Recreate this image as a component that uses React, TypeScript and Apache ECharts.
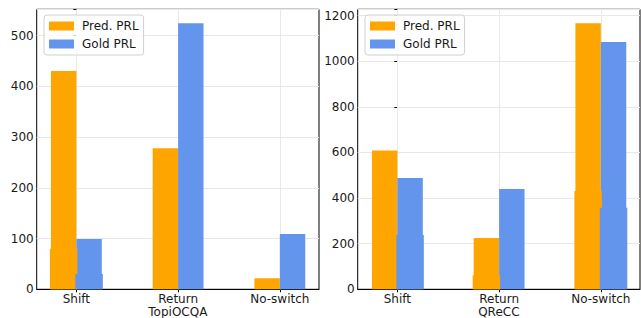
import React, { useEffect, useRef } from 'react';
import * as echarts from 'echarts';

const categories = ['Shift', 'Return', 'No-switch'];
const positions = [0, 1, 2];
const datasetNames = ['TopiOCQA', 'QReCC'];
const seriesNames = ['Pred. PRL', 'Gold PRL'];

const topiPred = [430, 278, 22];
const topiGold = [99, 524, 109];
const topiPredOverlay = [80, 0, 0];
const topiGoldOverlay = [30, 0, 0];

const qreccPred = [609, 225, 1167];
const qreccGold = [488, 440, 1085];
const qreccPredOverlay = [0, 61, 431];
const qreccGoldOverlay = [238, 0, 358];

const topiYTicks = [0, 100, 200, 300, 400, 500];
const qreccYTicks = [0, 200, 400, 600, 800, 1000, 1200];

const FONT = 'DejaVu Sans';
const ORANGE = '#FFA500';
const BLUE = '#6495ED';
const TEXT = '#1a1a1a';

export default function App() {
  const ref = useRef<HTMLDivElement>(null);
  useEffect(() => {
    if (!ref.current) return;
    const chart = echarts.init(ref.current, undefined, { renderer: 'svg' });
    const yMax = [551.7, 1228];
    const yInt = [100, 200];
    const yTicks = [topiYTicks, qreccYTicks];
    const preds = [topiPred, qreccPred];
    const golds = [topiGold, qreccGold];
    const predsO = [topiPredOverlay, qreccPredOverlay];
    const goldsO = [topiGoldOverlay, qreccGoldOverlay];
    const gridLeft = [36.7, 357.7];

    const grid = gridLeft.map((l) => ({
      left: l,
      top: 9.3,
      width: 282.3,
      height: 280,
      show: true,
      borderColor: '#000',
      borderWidth: 1,
      backgroundColor: 'transparent',
      containLabel: false,
      outerBoundsMode: 'none',
    }));

    const xAxis: any[] = [];
    const yAxis: any[] = [];
    const series: any[] = [];
    [0, 1].forEach((g) => {
      xAxis.push({
        type: 'value',
        gridIndex: g,
        min: -0.39,
        max: 2.385,
        splitLine: { show: false },
        axisLine: { show: true, onZero: false, lineStyle: { color: '#000', width: 1 } },
        axisTick: { show: true, customValues: positions, length: 3, lineStyle: { color: '#000' } },
        axisLabel: {
          customValues: positions,
          formatter: (v: number) => categories[Math.round(v)] ?? '',
          fontFamily: FONT,
          fontSize: 12,
          lineHeight: 12,
          color: TEXT,
          margin: 4,
        },
        name: datasetNames[g],
        nameLocation: 'middle',
        nameGap: 22.5,
        nameMoveOverlap: false,
        nameTextStyle: { fontFamily: FONT, fontSize: 12, color: TEXT, lineHeight: 12, verticalAlign: 'middle' },
      });
      xAxis.push({
        type: 'value',
        gridIndex: g,
        min: -0.39,
        max: 2.385,
        show: false,
      });
      yAxis.push({
        type: 'value',
        gridIndex: g,
        min: 0,
        max: yMax[g],
        interval: yInt[g],
        axisLine: { show: true, lineStyle: { color: '#000', width: 1 } },
        axisTick: { show: true, length: 3, lineStyle: { color: '#000' } },
        axisLabel: {
          formatter: (v: number) => (yTicks[g].includes(v) ? String(v) : ''),
          fontFamily: FONT,
          fontSize: 12,
          color: TEXT,
          margin: 3,
        },
        splitLine: { show: true, lineStyle: { color: '#e8e8e8', width: 1 } },
      });
      const xMain = g * 2;
      const xOver = g * 2 + 1;
      series.push({
        type: 'line',
        xAxisIndex: xMain,
        yAxisIndex: g,
        data: [],
        silent: true,
        z: 1,
        markLine: {
          z: 1,
          silent: true,
          symbol: 'none',
          animation: false,
          label: { show: false },
          lineStyle: { color: '#e8e8e8', width: 1, type: 'solid' },
          data: positions.map((x) => ({ xAxis: x })),
        },
      });
      series.push({
        type: 'bar',
        name: seriesNames[0],
        xAxisIndex: xMain,
        yAxisIndex: g,
        barWidth: '25%',
        barGap: '0%',
        z: 2,
        itemStyle: { color: ORANGE },
        data: positions.map((x, i) => [x, preds[g][i]]),
      });
      series.push({
        type: 'bar',
        name: seriesNames[1],
        xAxisIndex: xMain,
        yAxisIndex: g,
        barWidth: '25%',
        barGap: '0%',
        z: 2,
        itemStyle: { color: BLUE },
        data: positions.map((x, i) => [x, golds[g][i]]),
      });
      series.push({
        type: 'bar',
        name: seriesNames[0] + ' overlay',
        xAxisIndex: xOver,
        yAxisIndex: g,
        barWidth: '27%',
        barGap: '-7.4%',
        z: 3,
        itemStyle: { color: ORANGE },
        data: positions.map((x, i) => [x, predsO[g][i]]),
      });
      series.push({
        type: 'bar',
        name: seriesNames[1] + ' overlay',
        xAxisIndex: xOver,
        yAxisIndex: g,
        barWidth: '27%',
        barGap: '-7.4%',
        z: 3,
        itemStyle: { color: BLUE },
        data: positions.map((x, i) => [x, goldsO[g][i]]),
      });
    });

    const legend = [44, 365].map((l) => ({
      left: l,
      top: 15,
      orient: 'vertical',
      data: seriesNames,
      icon: 'rect',
      itemWidth: 25,
      itemHeight: 9,
      itemGap: 6,
      padding: [5, 5, 5, 5],
      backgroundColor: 'rgba(255,255,255,0.8)',
      borderColor: '#d0d0d0',
      borderWidth: 1,
      borderRadius: 3,
      selectedMode: false,
      textStyle: { fontFamily: FONT, fontSize: 12, color: TEXT, padding: [0, 0, 0, 3] },
    }));

    chart.setOption({
      animation: false,
      backgroundColor: '#fff',
      textStyle: { fontFamily: FONT },
      grid,
      xAxis,
      yAxis,
      legend,
      series,
    });
    return () => chart.dispose();
  }, []);
  return (
    <div
      ref={ref}
      style={{ position: 'fixed', left: 0, top: 0, width: 641, height: 318 }}
    />
  );
}
